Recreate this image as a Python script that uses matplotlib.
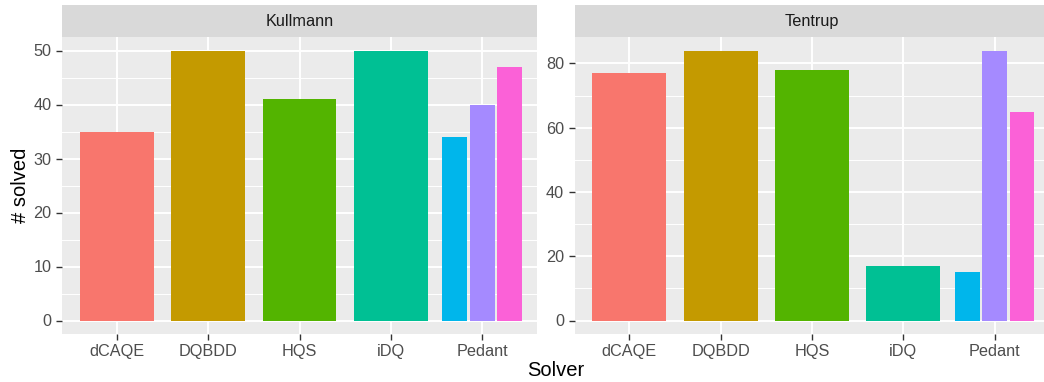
import numpy as np
import matplotlib
matplotlib.use("Agg")
import matplotlib.pyplot as plt

plt.rcParams['font.family'] = ['Liberation Sans', 'DejaVu Sans']

solvers = ["dCAQE", "DQBDD", "HQS", "iDQ", "Pedant"]
benchmarks = ["Kullmann", "Tentrup"]

# single bars for the first four solvers, three dodged bars for Pedant
kullmann_solved = [35, 50, 41, 50]
tentrup_solved = [77, 84, 78, 17]
pedant_kullmann = [34, 40, 47]
pedant_tentrup = [15, 84, 65]

y_ticks = {"Kullmann": [0, 10, 20, 30, 40, 50], "Tentrup": [0, 20, 40, 60, 80]}

solver_colors = ["#F8766D", "#C49A00", "#53B400", "#00C094"]
pedant_colors = ["#00B6EB", "#A58AFF", "#FB61D7"]

W, H = 1044, 382
fig = plt.figure(figsize=(W / 100, H / 100), dpi=100)

panel_w = 475
panel_top, panel_bot, strip_top = 37, 334, 5
lefts = [62, 574.5]

data = {
    "Kullmann": (kullmann_solved, pedant_kullmann),
    "Tentrup": (tentrup_solved, pedant_tentrup),
}

for left, name in zip(lefts, benchmarks):
    single, pedant = data[name]
    ax = fig.add_axes([left / W, (H - panel_bot) / H, panel_w / W, (panel_bot - panel_top) / H])
    ax.set_facecolor("#EBEBEB")
    for s in ax.spines.values():
        s.set_visible(False)

    x = np.arange(len(solvers))
    ax.bar(x[:4], single, width=0.81, color=solver_colors, zorder=3)
    offsets = np.array([-0.3, 0.0, 0.3])
    ax.bar(x[4] + offsets, pedant, width=0.27, color=pedant_colors, zorder=3)

    ymax = max(single + pedant)
    ax.set_ylim(-0.05 * ymax, 1.05 * ymax)
    ax.set_xlim(-0.6, len(solvers) - 0.4)

    ticks = y_ticks[name]
    ax.set_yticks(ticks)
    step = ticks[1] - ticks[0]
    minors = [t + step / 2 for t in ticks if t + step / 2 < 1.05 * ymax]
    ax.set_yticks(minors, minor=True)
    ax.set_xticks(x)
    ax.set_xticklabels(solvers)

    ax.grid(True, which="major", color="white", linewidth=1.4, zorder=0)
    ax.grid(True, which="minor", axis="y", color="white", linewidth=0.7, zorder=0)
    ax.set_axisbelow(True)
    ax.tick_params(axis="both", which="major", length=4.5, width=1.0, color="#333333",
                   labelcolor="#4D4D4D", labelsize=11.7, pad=3)
    ax.tick_params(axis="both", which="minor", length=0)

    # facet strip
    sax = fig.add_axes([left / W, (H - panel_top) / H, panel_w / W, (panel_top - strip_top) / H])
    sax.set_facecolor("#D9D9D9")
    sax.set_xticks([])
    sax.set_yticks([])
    for s in sax.spines.values():
        s.set_visible(False)
    sax.text(0.5, 0.48, name, ha="center", va="center", fontsize=11.7, color="#1A1A1A",
             transform=sax.transAxes)

fig.text(555.5 / W, 1 - 370 / H, "Solver", ha="center", va="center", fontsize=14.5, color="black")
fig.text(21 / W, 1 - 185 / H, "# solved", ha="center", va="center", rotation=90,
         fontsize=14.5, color="black")

fig.savefig("out.png", dpi=100)
